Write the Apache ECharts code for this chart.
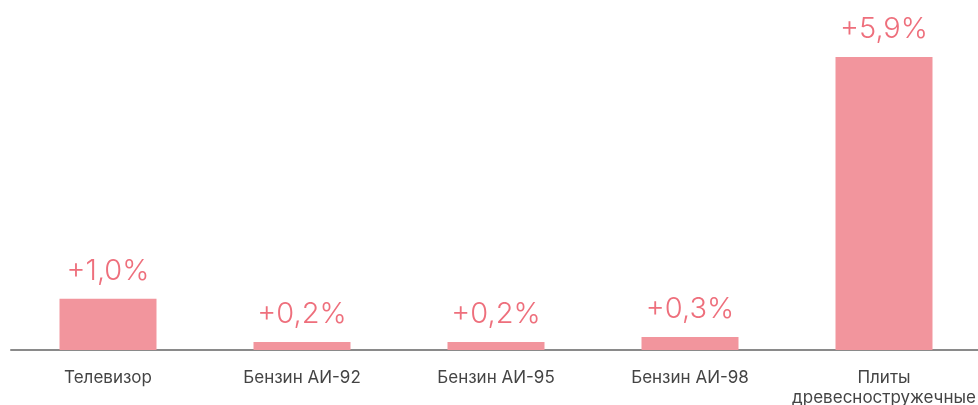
<!DOCTYPE html>
<html lang="ru">
<head>
<meta charset="UTF-8">
<title>Chart</title>
<script src="https://cdn.jsdelivr.net/npm/echarts@6/dist/echarts.min.js"></script>
<style>
  html, body { margin: 0; padding: 0; background: #fff; }
  #main { width: 978px; height: 405px; }
</style>
</head>
<body>
<div id="main"></div>
<script>
  // категории и приросты цен, %
  const categories = ['Телевизор', 'Бензин АИ-92', 'Бензин АИ-95', 'Бензин АИ-98', 'Плиты\nдревесностружечные'];
  const values = [1.03, 0.16, 0.16, 0.26, 5.9];

  const myChart = echarts.init(document.getElementById('main'));
  const option = {
    animation: false,
    grid: { left: 11, right: -3, top: 57, bottom: 55, outerBoundsMode: 'none', containLabel: false },
    xAxis: {
      type: 'category',
      data: categories,
      axisTick: { show: false },
      axisLine: { lineStyle: { color: '#8a8a8a', width: 2 } },
      axisLabel: {
        color: '#444',
        fontFamily: 'Inter',
        fontSize: 17,
        lineHeight: 20,
        margin: 18,
        interval: 0,
        hideOverlap: false
      }
    },
    yAxis: {
      type: 'value',
      min: 0,
      max: 5.9,
      show: false,
      splitLine: { show: false }
    },
    series: [{
      type: 'bar',
      data: values,
      barWidth: '50%',
      itemStyle: { color: '#f2959d' },
      label: {
        show: true,
        position: 'top',
        distance: 13,
        color: '#ee6f7c',
        fontFamily: 'Inter',
        fontSize: 29,
        fontWeight: 300,
        formatter: p => '+' + p.value.toFixed(1).replace('.', ',') + '%'
      }
    }]
  };
  myChart.setOption(option);
</script>
</body>
</html>
